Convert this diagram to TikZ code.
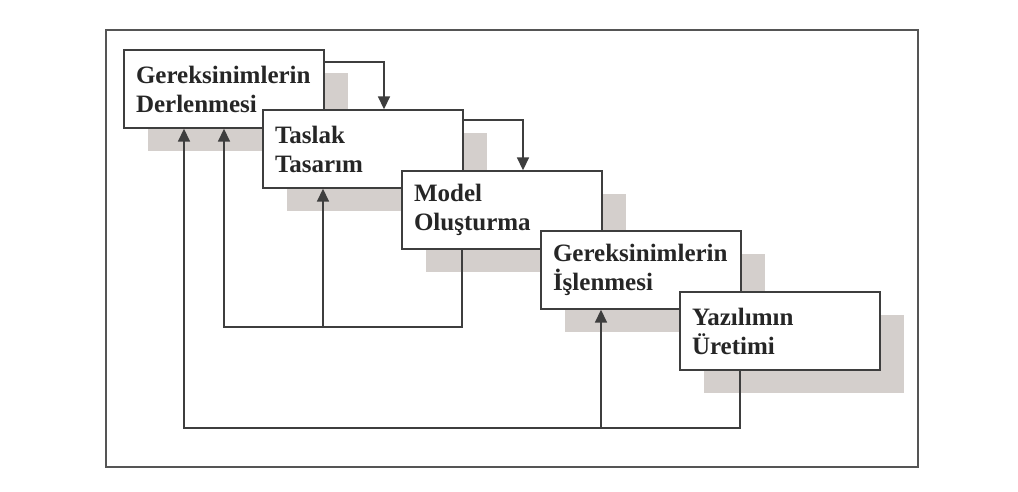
\documentclass[tikz,border=0pt]{standalone}
\usepackage{fontspec}
\setmainfont{Liberation Serif}
\usetikzlibrary{arrows.meta,calc}
\definecolor{inkgray}{RGB}{62,62,62}
\definecolor{framegray}{RGB}{85,85,85}
\definecolor{shadowgray}{RGB}{212,207,204}
\begin{document}
\begin{tikzpicture}[x=1pt,y=-1pt,
  stage/.style={draw=inkgray, line width=1.4pt, fill=white,
    minimum width=200pt, minimum height=78pt, text width=176pt,
    align=left, inner sep=0pt,
    font=\fontsize{25}{29}\selectfont\bfseries, text=black!85},
  drop/.style={fill=shadowgray, draw=none, minimum width=200pt,
    minimum height=78pt, inner sep=0pt},
  flow/.style={draw=inkgray, line width=1.7pt,
    -{Triangle[length=13pt,width=12pt]}},
  border/.style={draw=framegray, line width=1.6pt}]

% page
\fill[white] (0,0) rectangle (1018,491);
\useasboundingbox (0,0) rectangle (1018,491);

% outer frame
\draw[border] (106,30) rectangle (918,467);

% cascading stages, each with its offset shadow
\node[drop] (s1) at (248,112) {};
\node[stage] (b1) at (224,89) {Gereksinimlerin\\Derlenmesi};
\node[drop] (s2) at (387,172) {};
\node[stage] (b2) at (363,149) {Taslak\\Tasarım};
\node[drop] (s3) at (526,233) {};
\node[stage] (b3) at (502,210) {Model\\Oluşturma};
\node[drop] (s4) at (665,293) {};
\node[stage] (b4) at (641,270) {Gereksinimlerin\\İşlenmesi};
\node[drop] (s5) at (804,354) {};
\node[stage] (b5) at (780,331) {Yazılımın\\Üretimi};

% forward steps
\draw[flow] ([yshift=-13pt]b1.north east) -| ([xshift=21pt]b2.north);
\draw[flow] ([yshift=-11pt]b2.north east) -| ([xshift=21pt]b3.north);

% feedback paths
\coordinate (r1) at ([xshift=-40pt]b1.south);
\coordinate (r2) at ([xshift=-40pt]b2.south);
\coordinate (r3) at ([xshift=-40pt]b3.south);
\coordinate (r4) at ([xshift=-40pt]b4.south);
\coordinate (r5) at ([xshift=-40pt]b5.south);
\coordinate (loopA) at (0,327);
\coordinate (loopB) at (0,428);

\draw[flow] (r3) -- (r3 |- loopA) -- (b1.south |- loopA) -- (b1.south);
\draw[flow] (r2 |- loopA) -- (r2);
\draw[flow] (r5) -- (r5 |- loopB) -- (r1 |- loopB) -- (r1);
\draw[flow] (r4 |- loopB) -- (r4);
\end{tikzpicture}
\end{document}
